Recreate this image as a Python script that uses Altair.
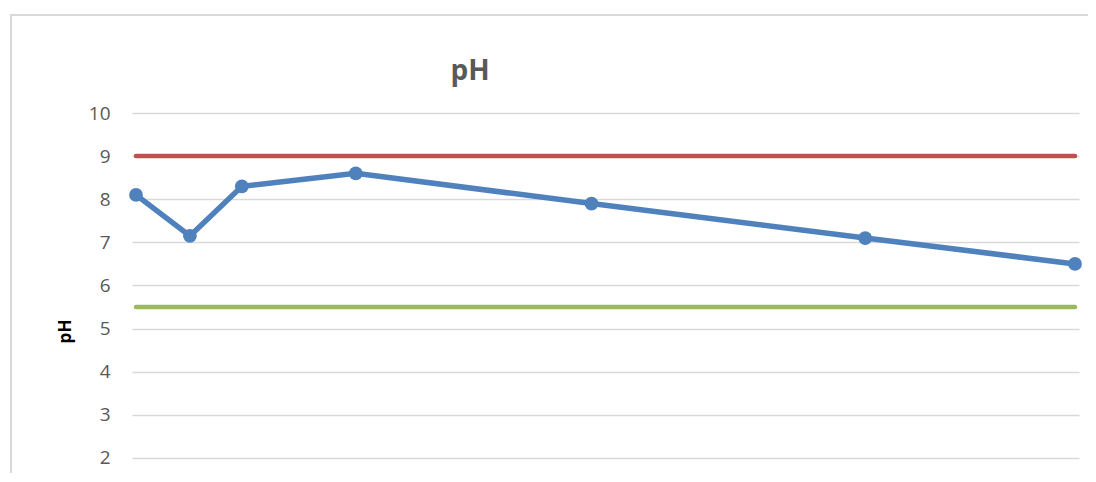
import altair as alt
import pandas as pd

# data
sample_day = [0, 27, 53, 110, 228, 365, 470]
ph_values = [8.1, 7.15, 8.3, 8.6, 7.9, 7.1, 6.5]
upper_limit = 9.0
lower_limit = 5.5
y_ticks = [2, 3, 4, 5, 6, 7, 8, 9, 10]
chart_title = "pH"
axis_title = "pH"

df = pd.DataFrame({"day": sample_day, "pH": ph_values})
limits = pd.DataFrame({
    "start": [min(sample_day)] * 2,
    "end": [max(sample_day)] * 2,
    "value": [upper_limit, lower_limit],
    "kind": ["upper", "lower"],
})
title_df = pd.DataFrame({"t": [chart_title]})

FONT = "Open Sans"
W, H = 947, 360

xscale = alt.Scale(domain=[-2, 472], nice=False, zero=False)
yscale = alt.Scale(domain=[1.65, 10], nice=False, zero=False)
yaxis = alt.Axis(
    values=y_ticks, title=axis_title, grid=True, gridColor="#D9D9D9", gridWidth=1.5,
    domain=False, ticks=False, labelPadding=22, labelFontSize=19,
    labelColor="#595959", labelFont=FONT,
    titleFont=FONT, titleFontSize=17, titleFontWeight="bold", titleColor="#000000",
    titleX=-67, titleY=218, titleAngle=270, titleAlign="center", titleBaseline="middle",
)

border = alt.Chart(title_df).mark_rect(
    fill="transparent", stroke="#D9D9D9", strokeWidth=2
).encode(
    x=alt.value(-121), x2=alt.value(W + 30),
    y=alt.value(-98), y2=alt.value(H + 30),
)

rules = alt.Chart(limits).mark_rule(strokeWidth=4.5, strokeCap="round").encode(
    x=alt.X("start:Q", scale=xscale, axis=None),
    x2="end:Q",
    y=alt.Y("value:Q", scale=yscale, axis=yaxis),
    color=alt.Color("kind:N", scale=alt.Scale(domain=["upper", "lower"], range=["#C0504D", "#9BBB59"]), legend=None),
)

line = alt.Chart(df).mark_line(color="#4F81BD", strokeWidth=5.5).encode(
    x=alt.X("day:Q", scale=xscale, axis=None),
    y=alt.Y("pH:Q", scale=yscale, axis=yaxis),
)
points = alt.Chart(df).mark_circle(color="#4F81BD", size=190, opacity=1).encode(
    x=alt.X("day:Q", scale=xscale, axis=None),
    y=alt.Y("pH:Q", scale=yscale, axis=yaxis),
)

title_mark = alt.Chart(title_df).mark_text(
    font=FONT, fontSize=28, fontWeight="bold", color="#595959",
    align="center", baseline="alphabetic",
).encode(
    x=alt.value(338), y=alt.value(-33), text="t:N",
)

chart = alt.layer(border, rules, line, points, title_mark).properties(
    width=W, height=H,
    autosize=alt.AutoSizeParams(type="none"),
    padding={"left": 124, "top": 105, "right": 9, "bottom": 0},
).configure_view(stroke="transparent")

chart.save("out.html", embed_options={"renderer": "svg", "actions": False})
